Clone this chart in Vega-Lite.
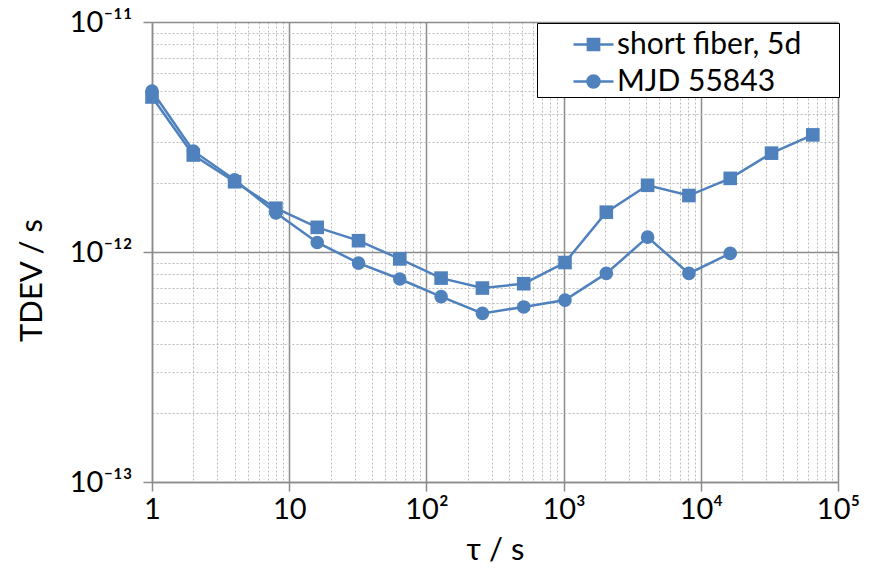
{
  "$schema": "https://vega.github.io/schema/vega-lite/v6.json",
  "width": 686,
  "height": 460,
  "autosize": {"type": "none"},
  "padding": {"left": 152, "top": 22, "right": 39, "bottom": 88},
  "background": "white",
  "config": {
    "view": {"stroke": null},
    "font": "Lato",
    "axis": {
      "labelFont": "Lato",
      "labelFontSize": 29,
      "labelColor": "black",
      "titleFont": "Lato",
      "titleFontSize": 31,
      "titleFontWeight": "normal",
      "titleColor": "black",
      "domainColor": "#8c8c8c",
      "domainWidth": 1.5,
      "tickColor": "#8c8c8c",
      "tickWidth": 1.5,
      "tickSize": 9,
      "labelOverlap": false,
      "labelBound": false,
      "labelFlush": false
    }
  },
  "data": {
    "values": [
      {"tau": 1, "tdev": 4.72e-12, "series": "short fiber, 5d"},
      {"tau": 2, "tdev": 2.64e-12, "series": "short fiber, 5d"},
      {"tau": 4, "tdev": 2.02e-12, "series": "short fiber, 5d"},
      {"tau": 8, "tdev": 1.55e-12, "series": "short fiber, 5d"},
      {"tau": 16, "tdev": 1.28e-12, "series": "short fiber, 5d"},
      {"tau": 32, "tdev": 1.12e-12, "series": "short fiber, 5d"},
      {"tau": 64, "tdev": 9.33e-13, "series": "short fiber, 5d"},
      {"tau": 128, "tdev": 7.7e-13, "series": "short fiber, 5d"},
      {"tau": 256, "tdev": 6.97e-13, "series": "short fiber, 5d"},
      {"tau": 512, "tdev": 7.28e-13, "series": "short fiber, 5d"},
      {"tau": 1024, "tdev": 9.0e-13, "series": "short fiber, 5d"},
      {"tau": 2048, "tdev": 1.49e-12, "series": "short fiber, 5d"},
      {"tau": 4096, "tdev": 1.95e-12, "series": "short fiber, 5d"},
      {"tau": 8192, "tdev": 1.76e-12, "series": "short fiber, 5d"},
      {"tau": 16384, "tdev": 2.09e-12, "series": "short fiber, 5d"},
      {"tau": 32768, "tdev": 2.69e-12, "series": "short fiber, 5d"},
      {"tau": 65536, "tdev": 3.23e-12, "series": "short fiber, 5d"},
      {"tau": 1, "tdev": 5.01e-12, "series": "MJD 55843"},
      {"tau": 2, "tdev": 2.75e-12, "series": "MJD 55843"},
      {"tau": 4, "tdev": 2.06e-12, "series": "MJD 55843"},
      {"tau": 8, "tdev": 1.48e-12, "series": "MJD 55843"},
      {"tau": 16, "tdev": 1.10e-12, "series": "MJD 55843"},
      {"tau": 32, "tdev": 8.95e-13, "series": "MJD 55843"},
      {"tau": 64, "tdev": 7.63e-13, "series": "MJD 55843"},
      {"tau": 128, "tdev": 6.4e-13, "series": "MJD 55843"},
      {"tau": 256, "tdev": 5.41e-13, "series": "MJD 55843"},
      {"tau": 512, "tdev": 5.77e-13, "series": "MJD 55843"},
      {"tau": 1024, "tdev": 6.18e-13, "series": "MJD 55843"},
      {"tau": 2048, "tdev": 8.07e-13, "series": "MJD 55843"},
      {"tau": 4096, "tdev": 1.16e-12, "series": "MJD 55843"},
      {"tau": 8192, "tdev": 8.07e-13, "series": "MJD 55843"},
      {"tau": 16384, "tdev": 9.86e-13, "series": "MJD 55843"}
    ]
  },
  "encoding": {
    "x": {
      "field": "tau",
      "type": "quantitative",
      "scale": {"type": "log", "domain": [1, 100000], "nice": false},
      "axis": {
        "title": "τ / s",
        "titleY": 68,
        "titleBaseline": "middle",
        "labelPadding": 4,
        "values": [1,2,3,4,5,6,7,8,9,10,20,30,40,50,60,70,80,90,100,200,300,400,500,600,700,800,900,1000,2000,3000,4000,5000,6000,7000,8000,9000,10000,20000,30000,40000,50000,60000,70000,80000,90000,100000],
        "labelExpr": "datum.value == 1 ? '1' : datum.value == 10 ? '10' : datum.value == 100 ? '10²' : datum.value == 1000 ? '10³' : datum.value == 10000 ? '10⁴' : datum.value == 100000 ? '10⁵' : ''",
        "grid": true,
        "gridColor": {"condition": {"test": "abs(log(datum.value)/LN10 - round(log(datum.value)/LN10)) < 0.001", "value": "#8c8c8c"}, "value": "#bcbcbc"},
        "gridDash": {"condition": {"test": "abs(log(datum.value)/LN10 - round(log(datum.value)/LN10)) < 0.001", "value": []}, "value": [2, 2]},
        "gridWidth": {"condition": {"test": "abs(log(datum.value)/LN10 - round(log(datum.value)/LN10)) < 0.001", "value": 1.5}, "value": 1},
        "tickOpacity": {"condition": {"test": "abs(log(datum.value)/LN10 - round(log(datum.value)/LN10)) < 0.001", "value": 1}, "value": 0}
      }
    },
    "y": {
      "field": "tdev",
      "type": "quantitative",
      "scale": {"type": "log", "domain": [1e-13, 1e-11], "nice": false},
      "axis": {
        "title": "TDEV / s",
        "titleX": -120,
        "titleY": 258,
        "titleBaseline": "middle",
        "titleAngle": -90,
        "labelPadding": 11,
        "values": [1e-13,2e-13,3e-13,4e-13,5e-13,6e-13,7e-13,8e-13,9e-13,1e-12,2e-12,3e-12,4e-12,5e-12,6e-12,7e-12,8e-12,9e-12,1e-11],
        "labelExpr": "datum.value < 1.5e-13 ? '10⁻¹³' : (abs(datum.value - 1e-12) < 1e-15 ? '10⁻¹²' : (datum.value > 9.5e-12 ? '10⁻¹¹' : ''))",
        "grid": true,
        "gridColor": {"condition": {"test": "abs(log(datum.value)/LN10 - round(log(datum.value)/LN10)) < 0.001", "value": "#8c8c8c"}, "value": "#bcbcbc"},
        "gridDash": {"condition": {"test": "abs(log(datum.value)/LN10 - round(log(datum.value)/LN10)) < 0.001", "value": []}, "value": [2, 2]},
        "gridWidth": {"condition": {"test": "abs(log(datum.value)/LN10 - round(log(datum.value)/LN10)) < 0.001", "value": 1.5}, "value": 1},
        "tickOpacity": {"condition": {"test": "abs(log(datum.value)/LN10 - round(log(datum.value)/LN10)) < 0.001", "value": 1}, "value": 0}
      }
    }
  },
  "layer": [
    {
      "mark": {"type": "line", "color": "#4F81BD", "strokeWidth": 2.5},
      "encoding": {"detail": {"field": "series", "type": "nominal"}}
    },
    {
      "mark": {"type": "point", "filled": true, "opacity": 1, "color": "#4F81BD", "size": 185},
      "encoding": {
        "shape": {
          "field": "series",
          "type": "nominal",
          "scale": {"domain": ["short fiber, 5d", "MJD 55843"], "range": ["square", "circle"]},
          "legend": null
        }
      }
    },
    {
      "mark": {"type": "point", "filled": false, "opacity": 1, "color": "#4F81BD", "stroke": "#4F81BD", "strokeWidth": 2.5, "size": 0},
      "encoding": {
        "shape": {
          "field": "series",
          "type": "nominal",
          "scale": {"domain": ["short fiber, 5d", "MJD 55843"], "range": ["M-1,0H1M-0.28,-0.28H0.28V0.28H-0.28ZM-0.28,-0.17H0.28M-0.28,-0.06H0.28M-0.28,0.06H0.28M-0.28,0.17H0.28", "M-1,0H1M0.3,0A0.3,0.3,0,1,1,-0.3,0A0.3,0.3,0,1,1,0.3,0ZM-0.279,-0.11H0.279M-0.279,0.11H0.279M-0.204,-0.22H0.204M-0.204,0.22H0.204"]},
          "legend": {
            "title": null,
            "orient": "none",
            "legendX": 385,
            "legendY": 1,
            "direction": "vertical",
            "strokeColor": "black",
            "fillColor": "white",
            "padding": 0,
            "rowPadding": 0,
            "symbolOffset": 35,
            "symbolSize": 1600,
            "symbolFillColor": "#4F81BD",
            "symbolStrokeColor": "#4F81BD",
            "symbolStrokeWidth": 2.5,
            "symbolOpacity": 1,
            "labelFont": "Lato",
            "labelFontSize": 30,
            "labelColor": "black",
            "labelOffset": 2,
            "labelLimit": 400,
            "labelExpr": "datum.label + '\u00a0\u00a0\u2800'"
          }
        }
      }
    }
  ],
  "resolve": {"scale": {"shape": "independent"}, "legend": {"shape": "independent"}}
}
